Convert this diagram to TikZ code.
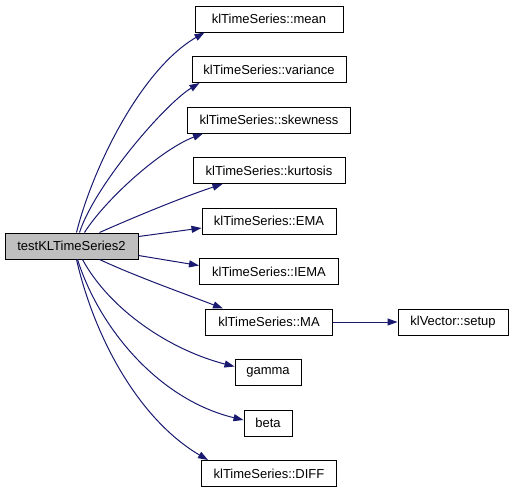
\documentclass[tikz,border=0pt]{standalone}
\usepackage{fontspec}
\setmainfont{Liberation Sans}
\usetikzlibrary{arrows.meta,calc}
\definecolor{edgecol}{HTML}{191970}
\definecolor{rootfill}{HTML}{BFBFBF}
\tikzset{
  fn/.style={draw=black, line width=1pt, fill=white, minimum height=26pt, inner sep=0pt,
    font=\fontsize{13}{15}\selectfont},
  call/.style={draw=edgecol, line width=1pt, -{Triangle[length=10pt,width=7pt]}}
}
\begin{document}
\begin{tikzpicture}[x=1pt,y=-1pt]
\useasboundingbox (0,0) rectangle (515,493);
% nodes
\node[fn, fill=rootfill, minimum width=133pt] (root) at (71.5,246) {testKLTimeSeries2};
\node[fn, minimum width=148pt] (mean) at (269,19) {klTimeSeries::mean};
\node[fn, minimum width=154pt] (variance) at (269,69.5) {klTimeSeries::variance};
\node[fn, minimum width=163pt] (skewness) at (269,120) {klTimeSeries::skewness};
\node[fn, minimum width=152pt] (kurtosis) at (269,170.5) {klTimeSeries::kurtosis};
\node[fn, minimum width=134pt] (EMA) at (269,221) {klTimeSeries::EMA};
\node[fn, minimum width=139pt] (IEMA) at (269,271.5) {klTimeSeries::IEMA};
\node[fn, minimum width=127pt] (MA) at (269,322) {klTimeSeries::MA};
\node[fn, minimum width=66pt] (gamma) at (268,372.5) {gamma};
\node[fn, minimum width=48pt] (beta) at (268,423) {beta};
\node[fn, minimum width=135pt] (DIFF) at (269,473.5) {klTimeSeries::DIFF};
\node[fn, minimum width=110pt] (setup) at (453,322) {klVector::setup};
% edges
\draw[call] ($(root.north west)+(72,0)$) .. controls (92,170) and (140,70) .. ($(mean.south west)+(10,0)$);
\draw[call] ($(root.north west)+(75,0)$) .. controls (95,185) and (165,104) .. ($(variance.south west)+(8,0)$);
\draw[call] ($(root.north west)+(80,0)$) .. controls (105,200) and (160,150) .. ($(skewness.south west)+(16,0)$);
\draw[call] ($(root.north west)+(95,0)$) .. controls (130,219) and (180,198) .. ($(kurtosis.south west)+(30,0)$);
\draw[call] ($(root.north east)+(0,4)$) -- ($(EMA.west)+(0,7)$);
\draw[call] ($(root.south east)+(0,-4)$) -- ($(IEMA.west)+(0,-6)$);
\draw[call] ($(root.south west)+(95,0)$) .. controls (135,276) and (180,292) .. ($(MA.north west)+(18,0)$);
\draw[call] ($(root.south west)+(78,0)$) .. controls (110,310) and (170,350) .. ($(gamma.west)+(0,-6)$);
\draw[call] ($(root.south west)+(73,0)$) .. controls (100,330) and (160,400) .. ($(beta.west)+(0,-3)$);
\draw[call] ($(root.south west)+(72,0)$) .. controls (95,340) and (140,420) .. ($(DIFF.north west)+(7,0)$);
\draw[call] (MA.east) -- (setup.west);
\end{tikzpicture}
\end{document}
